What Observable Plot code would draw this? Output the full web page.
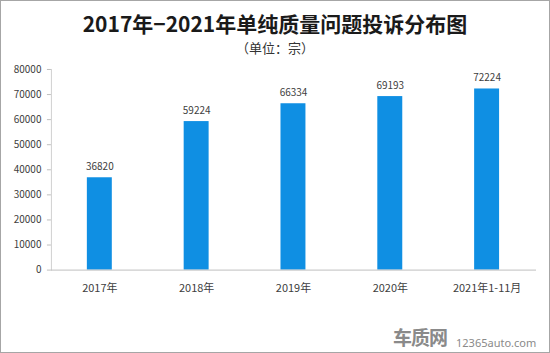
<!DOCTYPE html>
<html><head><meta charset="utf-8">
<script src="https://cdn.jsdelivr.net/npm/d3@7"></script>
<script src="https://cdn.jsdelivr.net/npm/@observablehq/plot@0.6"></script>
<style>
body{margin:0;background:#fff;}
#wrap{position:relative;width:550px;height:353px;box-sizing:border-box;border:1px solid #a6a6a6;overflow:hidden;font-family:"Noto Sans CJK SC","Noto Sans",sans-serif;}
#title{position:absolute;left:0;top:8px;width:548px;text-align:center;font-size:21px;font-weight:bold;color:#1a1a1a;line-height:28px;}
#sub{position:absolute;left:0;top:38px;width:548px;text-align:center;font-size:13px;color:#333;line-height:18px;}
#chart{position:absolute;left:-1px;top:57px;}
#wm1{position:absolute;left:392px;top:324px;font-size:19px;font-weight:bold;color:#8a8a8a;line-height:24px;letter-spacing:-1px;}
#wm2{position:absolute;left:455px;top:335px;font-size:11px;color:#8a8a8a;line-height:14px;font-family:"Noto Sans",sans-serif;}
</style></head>
<body><div id="wrap">
<div id="title">2017年−2021年单纯质量问题投诉分布图</div>
<div id="sub">（单位：宗）</div>
<div id="chart"></div>
<div id="wm1">车质网</div>
<div id="wm2">12365auto.com</div>
</div>
<script>
const categories = ["2017年","2018年","2019年","2020年","2021年1-11月"];
const values = [36820, 59224, 66334, 69193, 72224];
const yTicks = [0,10000,20000,30000,40000,50000,60000,70000,80000];
const data = categories.map((c,i)=>({cat:c, v:values[i]}));
const plot = Plot.plot({
  width: 550, height: 294,
  marginLeft: 51, marginRight: 13, marginTop: 11, marginBottom: 82,
  style: {fontFamily: '"Noto Sans CJK SC","Noto Sans",sans-serif', fontSize: "10px", color: "#595959", background: "transparent"},
  x: {domain: categories, paddingInner: 0.74, paddingOuter: 0.37, label: null},
  y: {domain: [0, 80000], label: null},
  marks: [
    Plot.frame({anchor: "left", stroke: "#d0d0d0"}),
    Plot.barY(data, {x: "cat", y: "v", fill: "#0f8fe3"}),
    Plot.ruleY([0], {stroke: "#bfbfbf"}),
    Plot.text(data, {x: "cat", y: "v", text: d => String(d.v), dy: -11, fill: "#404040", fontSize: 10}),
    Plot.axisY({ticks: yTicks, tickSize: 4, tickPadding: 6, stroke: "#bfbfbf", fill: "#404040", tickFormat: d => String(d), label: null}),
    Plot.axisX({tickSize: 0, tickPadding: 14, fill: "#404040", fontSize: 11, label: null})
  ]
});
document.getElementById("chart").appendChild(plot);
</script>
</body></html>
